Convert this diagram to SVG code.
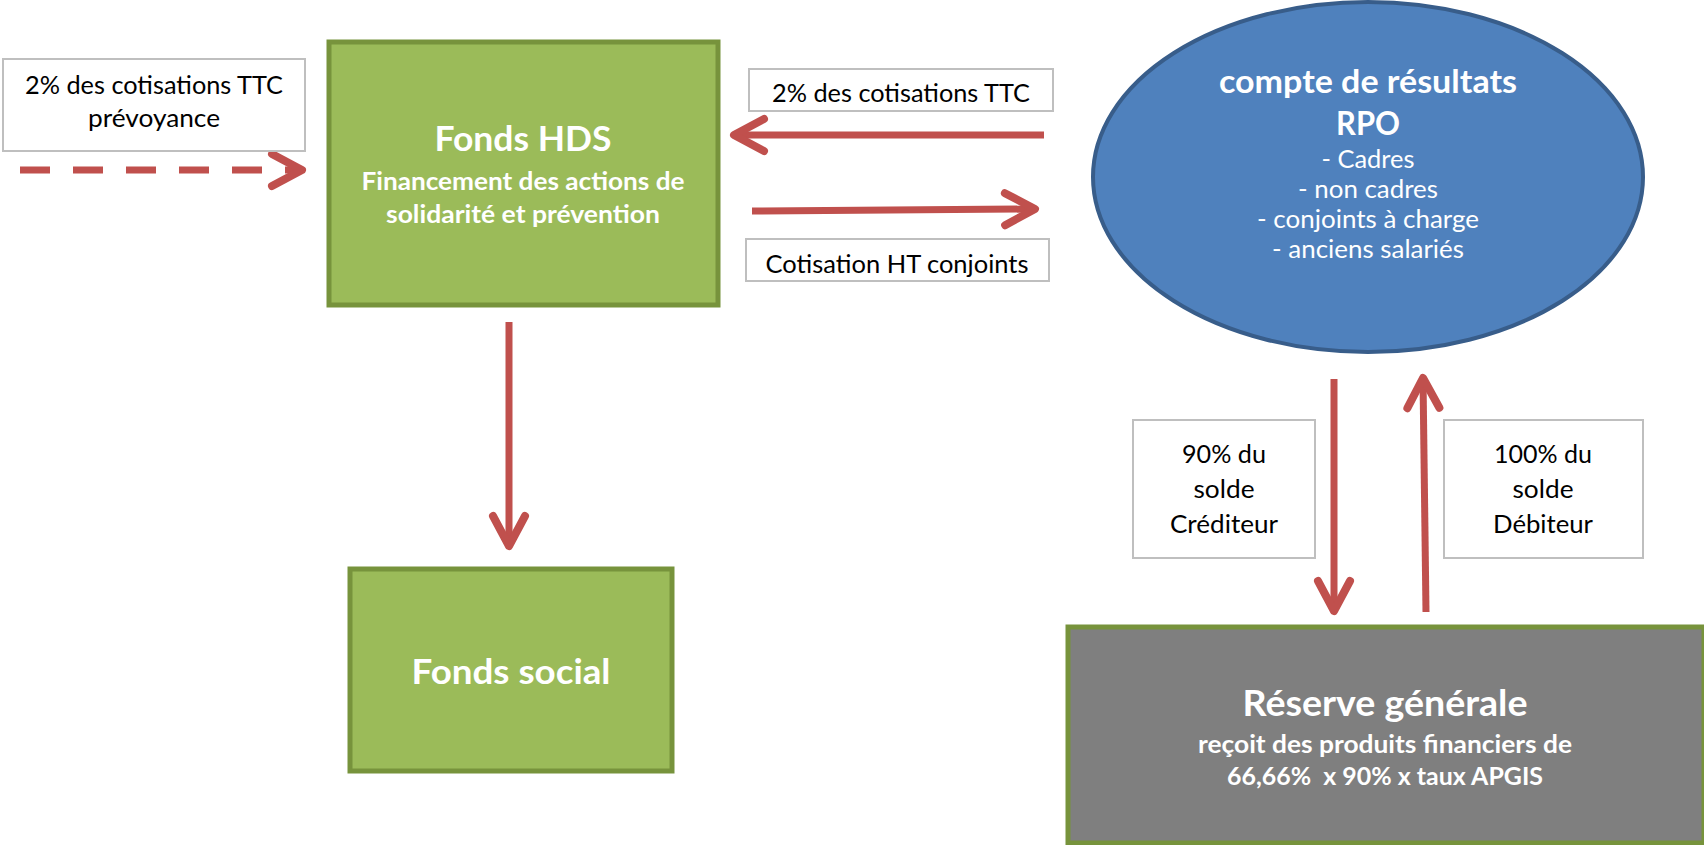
<svg xmlns="http://www.w3.org/2000/svg" width="1704" height="845" viewBox="0 0 1704 845">
<style>
  .lbl { fill: #FFFFFF; stroke: #BFBFBF; stroke-width: 2; }
  .lt { font-family: Lato, "Liberation Sans", sans-serif; font-size: 25px; fill: #000000; text-anchor: middle; }
  .wt { font-family: Lato, "Liberation Sans", sans-serif; fill: #FFFFFF; text-anchor: middle; font-weight: bold; }
  .wr { font-family: Lato, "Liberation Sans", sans-serif; fill: #FFFFFF; text-anchor: middle; font-size: 25px; }
  .green { fill: #9BBB59; stroke: #77933C; stroke-width: 5; }
  .conn { stroke: #C0504D; stroke-width: 7; fill: none; }
</style>
<defs>
  <marker id="ah" markerUnits="userSpaceOnUse" markerWidth="60" markerHeight="60" viewBox="-40 -30 60 60" refX="0" refY="0" orient="auto" overflow="visible">
    <path d="M-30,-16 L0,0 L-30,16" fill="none" stroke="#C0504D" stroke-width="8" stroke-linecap="round" stroke-linejoin="round"/>
  </marker>
</defs>
<rect width="1704" height="845" fill="#FFFFFF"/>

<g id="connectors">
  <line class="conn" x1="20" y1="170" x2="302" y2="170" stroke-dasharray="30 23" marker-end="url(#ah)"/>
  <line class="conn" x1="1044" y1="135" x2="734" y2="135" marker-end="url(#ah)"/>
  <line class="conn" x1="752" y1="211" x2="1035" y2="209" marker-end="url(#ah)"/>
  <line class="conn" x1="509" y1="322" x2="509" y2="546" marker-end="url(#ah)"/>
  <line class="conn" x1="1334" y1="379" x2="1334" y2="611" marker-end="url(#ah)"/>
  <line class="conn" x1="1426" y1="612" x2="1423" y2="378" marker-end="url(#ah)"/>
</g>

<g id="label-prevoyance">
  <rect class="lbl" x="3" y="59" width="302" height="92"/>
  <text class="lt" x="154" y="94" textLength="258" lengthAdjust="spacingAndGlyphs">2% des cotisations TTC</text>
  <text class="lt" x="154" y="127" textLength="132" lengthAdjust="spacingAndGlyphs">prévoyance</text>
</g>

<g id="label-ttc">
  <rect class="lbl" x="749" y="69" width="304" height="42"/>
  <text class="lt" x="901" y="102" textLength="258" lengthAdjust="spacingAndGlyphs">2% des cotisations TTC</text>
</g>

<g id="label-conjoints">
  <rect class="lbl" x="746" y="239" width="303" height="42"/>
  <text class="lt" x="897" y="273" textLength="263" lengthAdjust="spacingAndGlyphs">Cotisation HT conjoints</text>
</g>

<g id="label-crediteur">
  <rect class="lbl" x="1133" y="420" width="182" height="138"/>
  <text class="lt" x="1224" y="463" textLength="84" lengthAdjust="spacingAndGlyphs">90% du</text>
  <text class="lt" x="1224" y="498" textLength="61" lengthAdjust="spacingAndGlyphs">solde</text>
  <text class="lt" x="1224" y="533" textLength="108" lengthAdjust="spacingAndGlyphs">Créditeur</text>
</g>

<g id="label-debiteur">
  <rect class="lbl" x="1444" y="420" width="199" height="138"/>
  <text class="lt" x="1543" y="463" textLength="98" lengthAdjust="spacingAndGlyphs">100% du</text>
  <text class="lt" x="1543" y="498" textLength="61" lengthAdjust="spacingAndGlyphs">solde</text>
  <text class="lt" x="1543" y="533" textLength="100" lengthAdjust="spacingAndGlyphs">Débiteur</text>
</g>

<g id="fonds-hds">
  <rect class="green" x="329" y="42" width="389" height="263"/>
  <text class="wt" x="523" y="151" font-size="35" textLength="177" lengthAdjust="spacingAndGlyphs">Fonds HDS</text>
  <text class="wt" x="523" y="190" font-size="25" textLength="323" lengthAdjust="spacingAndGlyphs">Financement des actions de</text>
  <text class="wt" x="523" y="223" font-size="25" textLength="274" lengthAdjust="spacingAndGlyphs">solidarité et prévention</text>
</g>

<g id="fonds-social">
  <rect class="green" x="350" y="569" width="322" height="202"/>
  <text class="wt" x="511" y="684" font-size="35" textLength="199" lengthAdjust="spacingAndGlyphs">Fonds social</text>
</g>

<g id="compte-resultats">
  <ellipse cx="1368" cy="177" rx="275" ry="175" fill="#4F81BD" stroke="#385D8A" stroke-width="4"/>
  <text class="wt" x="1368" y="93" font-size="32" textLength="298" lengthAdjust="spacingAndGlyphs">compte de résultats</text>
  <text class="wt" x="1368" y="135" font-size="32" textLength="64" lengthAdjust="spacingAndGlyphs">RPO</text>
  <text class="wr" x="1368" y="168" textLength="93" lengthAdjust="spacingAndGlyphs">- Cadres</text>
  <text class="wr" x="1368" y="198" textLength="140" lengthAdjust="spacingAndGlyphs">- non cadres</text>
  <text class="wr" x="1368" y="228" textLength="222" lengthAdjust="spacingAndGlyphs">- conjoints à charge</text>
  <text class="wr" x="1368" y="258" textLength="192" lengthAdjust="spacingAndGlyphs">- anciens salariés</text>
</g>

<g id="reserve-generale">
  <rect x="1068" y="627" width="636" height="216" fill="#7F7F7F" stroke="#77933C" stroke-width="5"/>
  <text class="wt" x="1385" y="716" font-size="36" textLength="285" lengthAdjust="spacingAndGlyphs">Réserve générale</text>
  <text class="wt" x="1385" y="753" font-size="25" textLength="374" lengthAdjust="spacingAndGlyphs">reçoit des produits financiers de</text>
  <text class="wt" x="1385" y="785" font-size="25" textLength="316" lengthAdjust="spacingAndGlyphs">66,66%&#160; x 90% x taux APGIS</text>
</g>
</svg>
